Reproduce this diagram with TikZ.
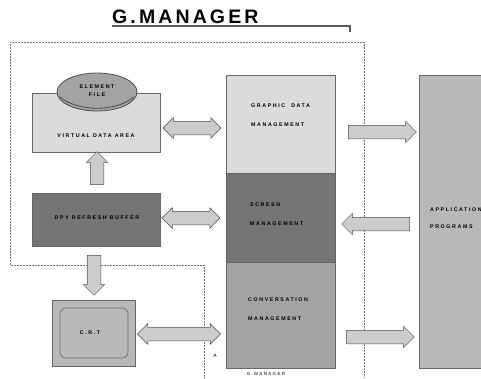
\documentclass[tikz,border=0pt]{standalone}
\usepackage{fontspec}
\setmainfont{Liberation Sans}
\newfontfamily\spacedfont[LetterSpace=30]{Liberation Sans}
\newfontfamily\titlefont[LetterSpace=16]{Liberation Sans}
\usetikzlibrary{shapes.geometric,shapes.arrows}
\definecolor{paleboxgray}{gray}{0.86}
\definecolor{darkboxgray}{gray}{0.46}
\definecolor{midboxgray}{gray}{0.64}
\definecolor{appboxgray}{gray}{0.72}
\definecolor{arrowgray}{gray}{0.80}
\tikzset{
  boxfill/.style={draw=black!60,line width=0.6pt,inner sep=0pt},
  lbl/.style={font=\spacedfont\bfseries\fontsize{5.3}{19}\selectfont,align=left,inner sep=0pt},
  blockarrow/.style={single arrow,draw=black!70,fill=arrowgray,line width=0.5pt,
    single arrow head extend=4pt,single arrow head indent=0pt,inner xsep=0pt,inner ysep=6.5pt},
  twoarrow/.style={double arrow,draw=black!70,fill=arrowgray,line width=0.5pt,
    double arrow head extend=3.5pt,inner xsep=0pt,inner ysep=6.5pt},
  fence/.style={densely dotted,black!55,line width=0.5pt}
}
\begin{document}
\begin{tikzpicture}[x=1pt,y=-1pt]
			\useasboundingbox (0,0) rectangle (481,378);
			% title
			\node[font=\titlefont\bfseries\fontsize{19.5}{19.5}\selectfont,inner sep=0pt,anchor=south west] (title) at (112,23.5) {G.MANAGER};
			\draw [line width=2.4pt,black!65] (112,26) -- (350,26) -- (350,32);
			% G.MANAGER boundary
			\draw [fence] (10,42) -- (364,42);
			\draw [fence] (10,42) -- (10,265) -- (204,265) -- (204,378);
			\draw [fence] (364,42) -- (364,378);
			% left column
			\node[boxfill,fill=paleboxgray,minimum width=128,minimum height=59] (vda) at (96,122.5) {};
			\node[lbl] (vdatext) at (96,136) {VIRTUAL DATA AREA};
			\node[ellipse,draw=black!70,line width=0.8pt,fill=midboxgray,minimum width=80,minimum height=38,inner sep=0pt] (efile) at (97,92) {};
			\draw [black!70,line width=0.8pt] (60,97) .. controls (78,112) and (116,112) .. (134,97);
			\node[lbl,font=\spacedfont\bfseries\fontsize{5.3}{8}\selectfont,align=center] (eftext) at (97,91) {ELEMENT\\FILE};
			\node[boxfill,fill=darkboxgray,minimum width=128,minimum height=53] (dpy) at (96,219.5) {};
			\node[lbl] (dpytext) at (97,218) {DPY REFRESH BUFFER};
			\node[boxfill,fill=appboxgray,minimum width=83,minimum height=66] (crt) at (93.5,333) {};
			\draw [black!60,line width=0.6pt,rounded corners=6pt] (60,308) rectangle (128,358);
			\node[lbl] (crttext) at (90,333) {C.R.T};
			\node[blockarrow,rotate=90,minimum height=33] (upar) at (97,171.5) {};
			\node[blockarrow,rotate=-90,minimum height=40] (downar) at (94,272) {};
			% middle column
			\node[boxfill,fill=paleboxgray,minimum width=109,minimum height=98] (gdm) at (280.5,124) {};
			\node[boxfill,fill=darkboxgray,minimum width=109,minimum height=89] (scm) at (280.5,217.5) {};
			\node[boxfill,fill=midboxgray,minimum width=109,minimum height=106] (cvm) at (280.5,315) {};
			\node[lbl,anchor=north west] (gdmtext) at (251,104) {GRAPHIC\ \ DATA\\MANAGEMENT};
			\node[lbl,anchor=north west] (scmtext) at (250,203) {SCREEN\\MANAGEMENT};
			\node[lbl,anchor=north west] (cvmtext) at (248,298) {CONVERSATION\\MANAGEMENT};
			\node[twoarrow,minimum height=58] (ar1) at (192,128) {};
			\node[twoarrow,minimum height=58] (ar2) at (191,218) {};
			\node[twoarrow,minimum height=83] (ar3) at (179,334) {};
			\node[font=\fontsize{5}{5}\selectfont,inner sep=0pt] (mark) at (215,356) {A};
			\node[font=\spacedfont\fontsize{4.5}{5}\selectfont,inner sep=0pt] (foot) at (266,374) {G.MANAGER};
			% right column
			\node[boxfill,draw=none,fill=appboxgray,minimum width=62,minimum height=293,anchor=north west] (app) at (419,75) {};
			\draw [black!60,line width=0.6pt] (481,75) -- (419,75) -- (419,368) -- (481,368);
			\node[lbl,font=\spacedfont\bfseries\fontsize{5.3}{17}\selectfont,anchor=north west] (apptext) at (430,208) {APPLICATION\\PROGRAMS};
			\node[blockarrow,minimum height=68] (ar4) at (379,132) {};
			\node[blockarrow,rotate=180,minimum height=68] (ar5) at (379,224) {};
			\node[blockarrow,minimum height=68] (ar6) at (377,337) {};
		\end{tikzpicture}
\end{document}
